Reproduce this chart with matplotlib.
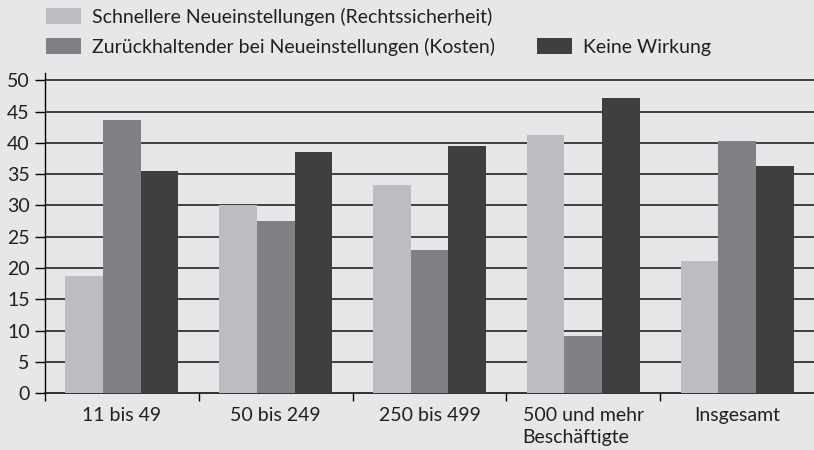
import matplotlib
matplotlib.use("Agg")
import matplotlib.pyplot as plt
import numpy as np

categories = ["11 bis 49", "50 bis 249", "250 bis 499", "500 und mehr\nBeschäftigte", "Insgesamt"]
series_names = ["Schnellere Neueinstellungen (Rechtssicherheit)",
                "Zurückhaltender bei Neueinstellungen (Kosten)",
                "Keine Wirkung"]
schneller = [18.7, 30.0, 33.3, 41.3, 21.1]
zurueck = [43.7, 27.5, 22.9, 9.1, 40.3]
keine = [35.5, 38.6, 39.5, 47.2, 36.3]
yticks = [0, 5, 10, 15, 20, 25, 30, 35, 40, 45, 50]

colors = ["#bcbdc0", "#808184", "#3f3f3f"]
bg = "#e6e7e9"
txt = "#231f20"

plt.rcParams['font.family'] = ['Lato', 'DejaVu Sans']

W, H = 814, 450
fig = plt.figure(figsize=(W / 100, H / 100), dpi=100, facecolor=bg)
ax = fig.add_axes([45 / W, 1 - 393 / H, 1 - 45 / W, (393 - 73) / H])
ax.set_facecolor(bg)

x = np.arange(len(categories))
w = 0.245
bars = []
for i, vals in enumerate([schneller, zurueck, keine]):
    b = ax.bar(x + (i - 1) * w, vals, width=w, color=colors[i], zorder=3,
               label=series_names[i], linewidth=0)
    bars.append(b)

fs = 14
ax.set_xlim(-0.5, len(categories) - 0.5)
ax.set_ylim(0, 51.2)
ax.set_yticks(yticks)
ax.set_yticklabels([str(v) for v in yticks], fontsize=fs, color=txt)
for v in yticks[1:]:
    ax.axhline(v, color="#333333", linewidth=1.3, zorder=1)

ax.set_xticks(x)
labels = ax.set_xticklabels(categories, fontsize=fs, color=txt, linespacing=1.35, va="top")
for lab in labels:
    lab.set_multialignment("left")
ax.set_xticks(np.arange(len(categories)) - 0.5, minor=True)
ax.tick_params(axis="x", which="major", length=0, pad=10)
ax.tick_params(axis="x", which="minor", length=6, width=1, color="black", direction="out")
ax.tick_params(axis="y", length=7, width=1, color="black", direction="out", pad=4)

for s in ["top", "right"]:
    ax.spines[s].set_visible(False)
ax.spines["left"].set_color("black")
ax.spines["left"].set_linewidth(1)
ax.spines["bottom"].set_color("#222222")
ax.spines["bottom"].set_linewidth(1.3)

px = fs * 100 / 72
common = dict(frameon=False, fontsize=fs, borderpad=0, borderaxespad=0,
              handlelength=35 / px, handleheight=17 / px, handletextpad=11 / px,
              labelcolor=txt, loc="upper left")
fig.legend(handles=[bars[0]], bbox_to_anchor=(46 / W, 1 - 8 / H), **common)
fig.legend(handles=[bars[1]], bbox_to_anchor=(46 / W, 1 - 38 / H), **common)
fig.legend(handles=[bars[2]], bbox_to_anchor=(537 / W, 1 - 38 / H), **common)

fig.savefig("out.png", dpi=100, facecolor=bg)
